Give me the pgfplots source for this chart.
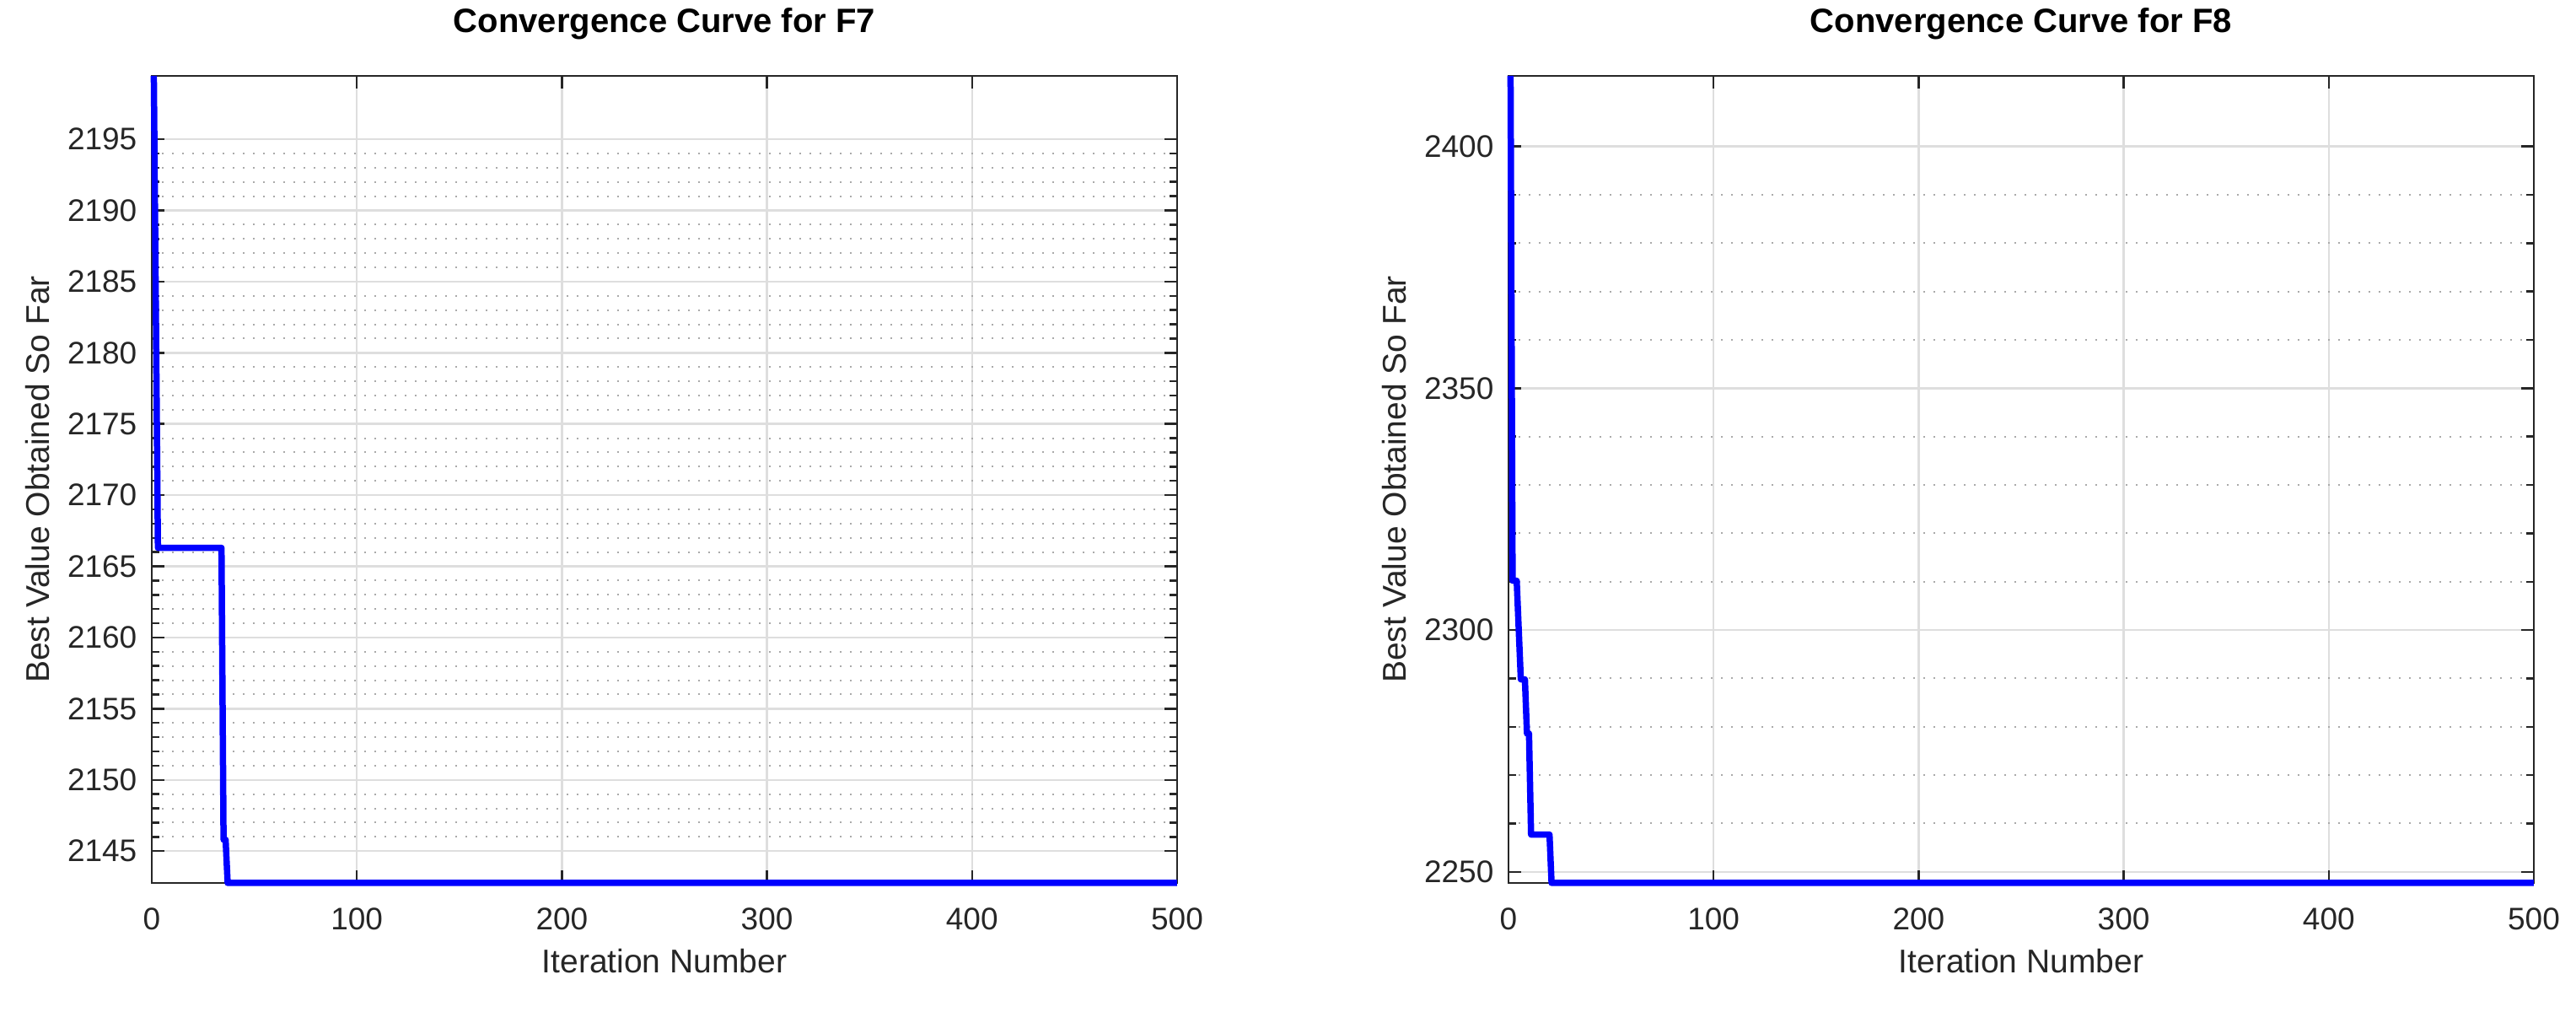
\documentclass[border=0pt]{standalone}
\usepackage{fontspec}
\setmainfont{Liberation Sans}
\usepackage{pgfplots}
\pgfplotsset{compat=1.18}

\definecolor{axgray}{RGB}{38,38,38}
\definecolor{gridmaj}{RGB}{222,222,222}
\definecolor{gridmin}{RGB}{170,170,170}

\pgfplotsset{
  every axis title shift=0pt,
  mlaxis/.style={
    scale only axis,
    width=243.2pt, height=191.4pt,
    xmin=0, xmax=500, xtick={0,100,...,500},
    axis line style={axgray, line width=0.5pt},
    tick style={axgray, line width=0.5pt},
    major tick length=3pt, minor tick length=1.8pt,
    tick align=inside,
    xtick pos=both, ytick pos=both,
    xmajorgrids, ymajorgrids, yminorgrids,
    major grid style={gridmaj, line width=0.5pt},
    minor grid style={gridmin, dotted, line width=0.4pt},
    minor y tick num=4,
    ticklabel style={font=\fontsize{7.4}{8}\selectfont, text=axgray},
    xticklabel style={yshift=-2.5pt},
    label style={font=\fontsize{7.8}{9}\selectfont, text=axgray},
    title style={font=\bfseries\fontsize{8}{9}\selectfont, at={(axis description cs:0.5,1.064)}, anchor=center},
    xlabel style={at={(axis description cs:0.5,-0.097)}, anchor=center},
    ylabel style={at={(axis description cs:-0.111,0.5)}, anchor=center},
    /pgf/number format/assume math mode=true,
    /pgf/number format/1000 sep={},
    scaled ticks=false,
    xlabel={Iteration Number},
    ylabel={Best Value Obtained So Far},
    clip=false,
  },
  mlline/.style={blue, line width=1.5pt, line join=round, no markers},
}

\begin{document}
\begin{tikzpicture}
\path[use as bounding box] (0,0) rectangle (611pt,240pt);

% F7
\begin{axis}[mlaxis, at={(36pt,30.6pt)}, anchor=south west,
  title={Convergence Curve for F7},
  ymin=2142.76, ymax=2199.45,
  ytick={2145,2150,...,2195},
]
\addplot[mlline] coordinates {
  (1,2199.45) (3,2166.3) (34,2166.3) (35,2145.8) (36,2145.8) (37,2142.76) (500,2142.76)
};
\end{axis}

% F8
\begin{axis}[mlaxis, at={(357.8pt,30.6pt)}, anchor=south west,
  title={Convergence Curve for F8},
  ymin=2247.7, ymax=2414.6,
  ytick={2250,2300,2350,2400},
]
\addplot[mlline] coordinates {
  (1,2414.6) (2,2310.2) (4,2310.2) (6,2289.8) (8,2289.8) (9,2278.6) (10,2278.6)
  (11,2257.7) (20,2257.7) (21,2247.7) (500,2247.7)
};
\end{axis}
\end{tikzpicture}
\end{document}
